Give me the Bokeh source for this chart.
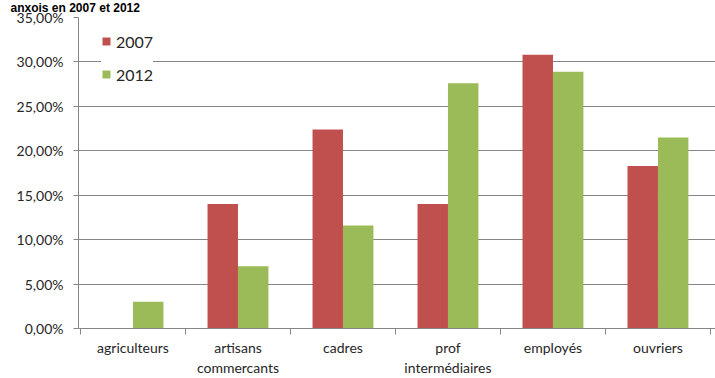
from bokeh.plotting import figure
from bokeh.models import (Range1d, FixedTicker, CustomJSTickFormatter,
                          ColumnDataSource)
from bokeh.transform import dodge
from bokeh.embed import file_html
from bokeh.resources import INLINE

categories = ["agriculteurs", "artisans\ncommercants", "cadres",
              "prof\nintermédiaires", "employés", "ouvriers"]
series_names = ["2007", "2012"]
v2007 = [0.0, 14.0, 22.4, 14.0, 30.8, 18.3]
v2012 = [3.0, 7.0, 11.6, 27.6, 28.9, 21.5]
y_ticks = [0, 5, 10, 15, 20, 25, 30, 35]
title_text = "anxois en 2007 et 2012"

RED = "#C0504D"
GREEN = "#9BBB59"
GRID = "#868686"
TXT = "#262626"
FONT = "Lato"

idx = list(range(len(categories)))
src = ColumnDataSource(dict(x=idx, v2007=v2007, v2012=v2012))

p = figure(width=715, height=378, output_backend="svg", toolbar_location=None,
           x_range=Range1d(-0.519, 5.548), y_range=Range1d(0, 35),
           min_border_left=78, min_border_right=0, min_border_top=17,
           min_border_bottom=49, outline_line_color=None)

# title, small enough to stay fully visible above the frame
p.title.text = title_text
p.title.text_font = "Liberation Sans"
p.title.text_font_style = "bold"
p.title.text_font_size = "12px"
p.title.text_color = "black"
p.title.align = "left"
p.title.offset = -68
p.title.standoff = 1
p.title.vertical_align = "top"

bw = 0.29
p.vbar(x=dodge("x", -bw / 2), top="v2007", width=bw, source=src,
       fill_color=RED, line_color=None, legend_label=series_names[0])
p.vbar(x=dodge("x", bw / 2), top="v2012", width=bw, source=src,
       fill_color=GREEN, line_color=None, legend_label=series_names[1])

# y axis
yax = p.yaxis[0]
yax.ticker = FixedTicker(ticks=y_ticks)
yax.formatter = CustomJSTickFormatter(
    code="return tick.toFixed(2).replace('.', ',') + '%';")
yax.axis_line_color = GRID
yax.major_tick_line_color = GRID
yax.major_tick_out = 5
yax.major_tick_in = 0
yax.minor_tick_line_color = None
yax.major_label_text_font = FONT
yax.major_label_text_font_size = "14px"
yax.major_label_text_color = TXT
yax.major_label_standoff = 10

p.ygrid.ticker = FixedTicker(ticks=y_ticks[1:-1])
p.ygrid.grid_line_color = GRID
p.xgrid.grid_line_color = None

# x axis: labels at centres, tick marks at category boundaries
xax = p.xaxis[0]
xax.ticker = FixedTicker(ticks=idx, minor_ticks=[i - 0.5 for i in idx] + [len(idx) - 0.5])
xax.formatter = CustomJSTickFormatter(args=dict(labels=categories),
                                      code="return labels[Math.round(tick)];")
xax.axis_line_color = GRID
xax.major_tick_line_color = None
xax.minor_tick_line_color = GRID
xax.minor_tick_out = 6
xax.minor_tick_in = 0
xax.major_label_text_font = FONT
xax.major_label_text_font_size = "14px"
xax.major_label_text_color = TXT
xax.major_label_standoff = 4

# legend
lg = p.legend[0]
lg.location = (23, 244)
lg.background_fill_color = "white"
lg.background_fill_alpha = 1
lg.border_line_color = None
lg.padding = 10
lg.margin = 0
lg.spacing = 13
lg.glyph_width = 10
lg.glyph_height = 10
lg.label_height = 20
lg.label_standoff = 5
lg.label_text_font = FONT
lg.label_text_font_size = "16px"
lg.label_text_color = TXT

open("out.html", "w").write(file_html(p, INLINE))
